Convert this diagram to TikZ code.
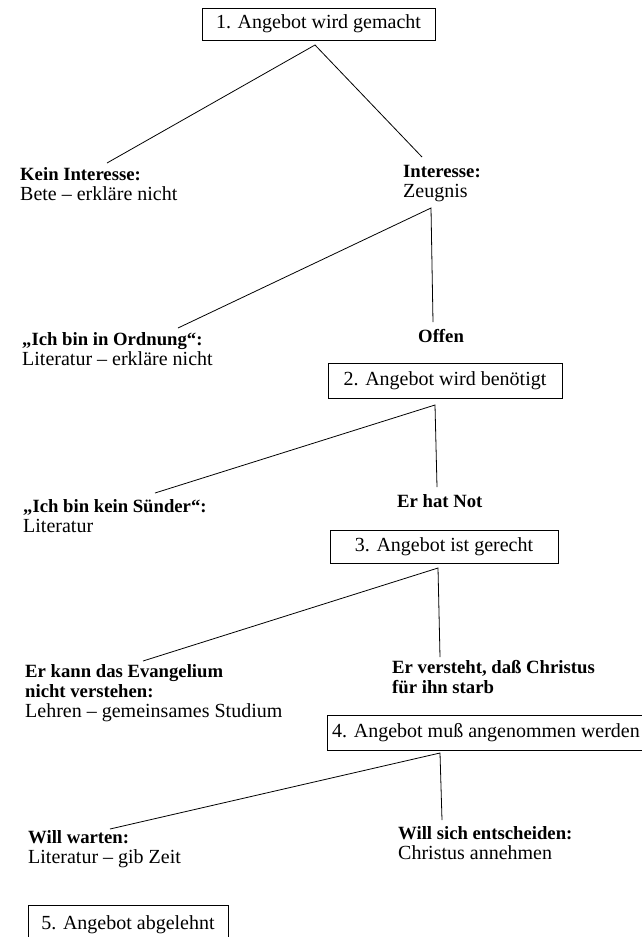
\documentclass[tikz,border=0pt]{standalone}
\usepackage{fontspec}
\setmainfont{Liberation Serif}
\begin{document}
\begin{tikzpicture}[x=1pt,y=-1pt,
  box/.style={draw, line width=0.9pt, inner sep=0pt, font=\fontsize{20}{20}\selectfont},
  lbl/.style={anchor=base west, align=left, inner sep=0pt, font=\fontsize{20}{20}\selectfont},
  hd/.style={font=\fontsize{18.7}{20}\selectfont\bfseries},
  con/.style={line width=0.8pt}]
\useasboundingbox (0,0) rectangle (642,937);
\clip (0,0) rectangle (642,937);
\newcommand\hb[1]{{\fontsize{18.7}{20}\selectfont\bfseries #1}}

% boxes
\node[box, minimum width=233pt, minimum height=32pt] (b1) at (318.5,24) {1. Angebot wird gemacht};
\node[box, minimum width=234pt, minimum height=35pt] (b2) at (445,380.5) {2. Angebot wird benötigt};
\node[box, minimum width=228pt, minimum height=33pt] (b3) at (444,546.5) {3. Angebot ist gerecht};
\node[box, minimum width=318pt, minimum height=35pt] (b4) at (486,732.5) {4. Angebot muß angenommen werden};
\node[box, minimum width=200pt, minimum height=40pt] (b5) at (128,925) {5. Angebot abgelehnt};

% labels (anchor = baseline of last line)
\node[lbl] (kein) at (20,200) {\hb{Kein Interesse:}\\Bete -- erkläre nicht};
\node[lbl] (inter) at (403,197) {\hb{Interesse:}\\Zeugnis};
\node[lbl] (ordn) at (22,365) {\hb{„Ich bin in Ordnung“:}\\Literatur -- erkläre nicht};
\node[lbl, hd] (offen) at (418,342) {Offen};
\node[lbl] (suend) at (23,532) {\hb{„Ich bin kein Sünder“:}\\Literatur};
\node[lbl, hd] (not) at (397,507) {Er hat Not};
\node[lbl] (evang) at (25,717) {\hb{Er kann das Evangelium}\\\hb{nicht verstehen:}\\Lehren -- gemeinsames Studium};
\node[lbl, hd] (verst) at (392,693) {Er versteht, daß Christus\\für ihn starb};
\node[lbl] (warten) at (28,863) {\hb{Will warten:}\\Literatur -- gib Zeit};
\node[lbl] (entsch) at (398,859) {\hb{Will sich entscheiden:}\\Christus annehmen};

% connector points
\coordinate (a1) at (315,45);   \coordinate (l1) at (107,163); \coordinate (r1) at (422,157);
\coordinate (a2) at (431,208);  \coordinate (l2) at (178,328); \coordinate (r2) at (433,322);
\coordinate (a3) at (435,405);  \coordinate (l3) at (155,493); \coordinate (r3) at (437,487);
\coordinate (a4) at (438,568);  \coordinate (l4) at (143,661); \coordinate (r4) at (440,657);
\coordinate (a5) at (440,753);  \coordinate (l5) at (110,829); \coordinate (r5) at (442,820);

\draw[con] (l1) -- (a1) -- (r1);
\draw[con] (l2) -- (a2) -- (r2);
\draw[con] (l3) -- (a3) -- (r3);
\draw[con] (l4) -- (a4) -- (r4);
\draw[con] (l5) -- (a5) -- (r5);
\end{tikzpicture}
\end{document}
